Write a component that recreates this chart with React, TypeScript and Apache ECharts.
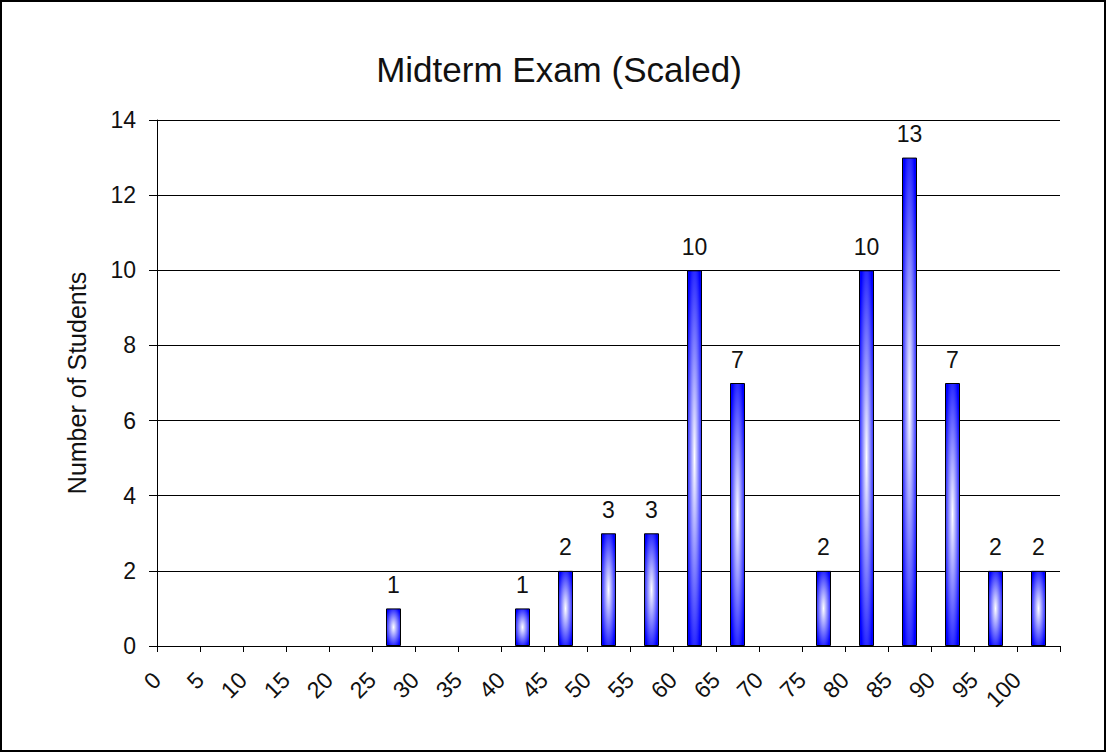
import React, { useEffect, useRef } from "react";
import * as echarts from "echarts";

const titleText = "Midterm Exam (Scaled)";
const yAxisName = "Number of Students";
const binStarts = [0, 5, 10, 15, 20, 25, 30, 35, 40, 45, 50, 55, 60, 65, 70, 75, 80, 85, 90, 95, 100];
const counts = [0, 0, 0, 0, 0, 1, 0, 0, 1, 2, 3, 3, 10, 7, 0, 2, 10, 13, 7, 2, 2];
const binWidth = 5;
const yTicks = [0, 2, 4, 6, 8, 10, 12, 14];

const FONT = "'Liberation Sans', Arial, sans-serif";

export default function App() {
  const ref = useRef<HTMLDivElement>(null);
  useEffect(() => {
    document.body.style.margin = "0";
    const chart = echarts.init(ref.current!, null, { renderer: "svg" });
    const data = binStarts
      .map((s, i) => [s + binWidth / 2, counts[i]])
      .filter((d) => d[1] > 0);
    const xMax = binStarts[binStarts.length - 1] + binWidth;
    chart.setOption({
      animation: false,
      backgroundColor: "#ffffff",
      textStyle: { fontFamily: FONT },
      graphic: [
        {
          type: "rect",
          shape: { x: 1, y: 1, width: 1104, height: 750 },
          style: { fill: "none", stroke: "#000", lineWidth: 2 },
          silent: true,
          z: 100,
        },
      ],
      title: {
        text: titleText,
        left: 554,
        textAlign: "center",
        top: 47,
        textStyle: { fontFamily: FONT, fontSize: 35, fontWeight: "normal", color: "#111" },
      },
      grid: { left: 157, top: 120, right: 47, bottom: 107, containLabel: false },
      xAxis: {
        type: "value",
        min: 0,
        max: xMax,
        interval: binWidth,
        splitLine: { show: false },
        axisLine: { show: true, lineStyle: { color: "#000", width: 1 } },
        axisTick: { show: true, length: 6, lineStyle: { color: "#000" } },
        axisLabel: {
          rotate: 45,
          margin: 30,
          fontSize: 23,
          color: "#111",
          fontFamily: FONT,
          showMaxLabel: true,
          formatter: (v: number) => (binStarts.indexOf(v) >= 0 ? String(v) : ""),
        },
      },
      yAxis: {
        type: "value",
        min: yTicks[0],
        max: yTicks[yTicks.length - 1],
        interval: 2,
        name: yAxisName,
        nameLocation: "middle",
        nameGap: 68,
        nameRotate: 90,
        nameTextStyle: { fontSize: 25, color: "#111", fontFamily: FONT },
        axisLine: { show: true, lineStyle: { color: "#000", width: 1 } },
        axisTick: { show: true, length: 8, lineStyle: { color: "#000" } },
        axisLabel: { fontSize: 23, color: "#111", margin: 21, fontFamily: FONT },
        splitLine: { show: true, lineStyle: { color: "#000", width: 1 } },
      },
      series: [
        {
          type: "bar",
          data,
          barWidth: 15,
          itemStyle: {
            color: new echarts.graphic.RadialGradient(0.5, 0.5, 0.6, [
              { offset: 0, color: "#ffffff" },
              { offset: 1, color: "#0000ff" },
            ]),
            borderColor: "#000",
            borderWidth: 1,
          },
          label: {
            show: true,
            position: "top",
            distance: 12,
            fontSize: 23,
            color: "#111",
            fontFamily: FONT,
            formatter: (p: any) => String(p.value[1]),
          },
        },
      ],
    });
    return () => chart.dispose();
  }, []);
  return <div ref={ref} style={{ width: 1107, height: 753 }} />;
}
